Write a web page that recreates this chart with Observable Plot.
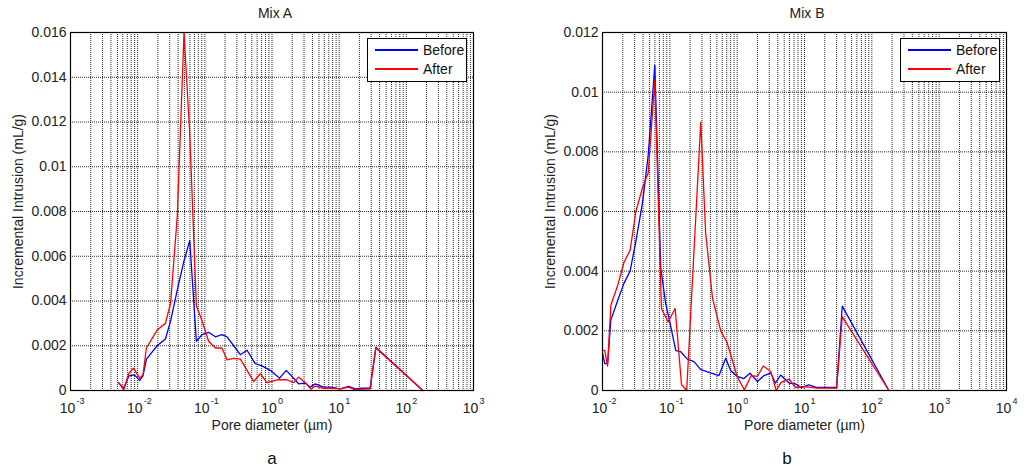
<!DOCTYPE html>
<html>
<head>
<meta charset="utf-8">
<script src="https://cdn.jsdelivr.net/npm/d3@7"></script>
<script src="https://cdn.jsdelivr.net/npm/@observablehq/plot@0.6"></script>
<style>
  body { margin: 0; background: #fff; font-family: "Liberation Sans", Arial, sans-serif; }
  #wrap { position: relative; width: 1024px; height: 475px; }
  .panel { position: absolute; top: 0; }
  .title { position: absolute; font-size: 14px; color: #222; transform: translateX(-50%); }
  .letter { position: absolute; font-size: 17px; color: #111; transform: translateX(-50%); }
  .legend { position: absolute; width: 98px; height: 42px; border: 1px solid #000; background: #fff; font-size: 14px; color: #111; }
  .legend .row { position: absolute; left: 7px; height: 16px; display: flex; align-items: center; }
  .legend .sw { display: inline-block; width: 43px; height: 1.5px; margin-right: 5px; }
</style>
</head>
<body>
<div id="wrap"></div>
<script>
// Mix A
const aBeforeX = [0.00524, 0.0062, 0.0074, 0.00895, 0.0107, 0.012, 0.0135, 0.0195, 0.0259, 0.0309, 0.0389, 0.049, 0.0596, 0.0748, 0.091, 0.114, 0.1436, 0.18, 0.214, 0.269, 0.338, 0.425, 0.563, 0.707, 0.94, 1.3, 1.63, 2.1, 2.49, 3.13, 3.7, 4.4, 5.86, 7.36, 10.4, 13.8, 17.4, 21.8, 28.9, 35.2, 176];
const aBeforeY = [0.00033, 0.0001, 0.00065, 0.0007, 0.00045, 0.00065, 0.0014, 0.002, 0.0023, 0.0031, 0.0045, 0.0058, 0.0067, 0.0022, 0.0025, 0.0026, 0.0024, 0.0025, 0.0024, 0.002, 0.0016, 0.0018, 0.0012, 0.0011, 0.0009, 0.00055, 0.0009, 0.00055, 0.0003, 0.00033, 0.00015, 0.0003, 0.00015, 0.00015, 0.00007, 0.00018, 0.00007, 0.0001, 0.0001, 0.00193, 0];
const aAfterX = [0.00524, 0.0062, 0.0074, 0.0087, 0.0107, 0.012, 0.0135, 0.0195, 0.0259, 0.0309, 0.0389, 0.049, 0.0596, 0.0748, 0.091, 0.114, 0.1436, 0.18, 0.214, 0.269, 0.338, 0.425, 0.535, 0.67, 0.84, 1.2, 1.66, 2.1, 2.49, 3.13, 3.8, 4.4, 5.86, 7.36, 10.4, 13.8, 17.4, 21.8, 28.9, 35.2, 176];
const aAfterY = [0.00035, 0.00003, 0.00077, 0.001, 0.00055, 0.0007, 0.0019, 0.0027, 0.003, 0.0039, 0.0078, 0.016, 0.0115, 0.0038, 0.0031, 0.0022, 0.0019, 0.0019, 0.00137, 0.00144, 0.0014, 0.0009, 0.0004, 0.00075, 0.00035, 0.00048, 0.00048, 0.00035, 0.0006, 0.00035, 0.00006, 0.0002, 0.0001, 0.0001, 0.00007, 0.00015, 0.00003, 0.00006, 0.00007, 0.0019, 0];

// Mix B
const bBeforeX = [0.01, 0.0108, 0.0119, 0.0133, 0.0167, 0.0209, 0.0257, 0.0313, 0.0393, 0.0478, 0.0598, 0.0733, 0.087, 0.0977, 0.1226, 0.145, 0.182, 0.229, 0.288, 0.537, 0.676, 0.8, 1.0, 1.26, 1.55, 2.0, 2.5, 3.16, 3.7, 4.43, 5.9, 7.4, 8.96, 11.6, 15.5, 21.8, 30, 36.4, 179];
const bBeforeY = [0.00125, 0.0009, 0.0009, 0.00236, 0.003, 0.0036, 0.004, 0.005, 0.0063, 0.0079, 0.0109, 0.0041, 0.0029, 0.0024, 0.00134, 0.0013, 0.00105, 0.00097, 0.0007, 0.0005, 0.00108, 0.00067, 0.00047, 0.0004, 0.00058, 0.0003, 0.0005, 0.00058, 0.00025, 0.00052, 0.00025, 0.00022, 0.0001, 0.00019, 0.0001, 0.0001, 0.0001, 0.00283, 0];
const bAfterX = [0.01, 0.0108, 0.0119, 0.0133, 0.0167, 0.0209, 0.0257, 0.0313, 0.0393, 0.0478, 0.0598, 0.075, 0.0944, 0.12, 0.149, 0.178, 0.288, 0.34, 0.43, 0.57, 0.71, 1.0, 1.28, 1.62, 2.0, 2.44, 3.16, 3.8, 4.5, 5.9, 7.4, 9.8, 15.5, 21.8, 30, 36.4, 179];
const bAfterY = [0.00136, 0.00134, 0.00082, 0.00286, 0.0035, 0.0043, 0.0047, 0.006, 0.0068, 0.0073, 0.0104, 0.00275, 0.0023, 0.00275, 0.0002, 0, 0.009, 0.0053, 0.0031, 0.002, 0.0016, 0.00047, 0.00002, 0.0005, 0.00047, 0.00082, 0.00064, 0, 0.00027, 0.00038, 0.0001, 0.00013, 0.00008, 0.00008, 0.00008, 0.00247, 0];

const seriesNames = ["Before", "After"];
const seriesColors = ["#0000ff", "#ff0000"];

function toRows(xs, ys) { return xs.map((x, i) => ({x, y: ys[i]})); }

function panel({before, after, xDomain, yMax, yStep, marginLeft, marginRight}) {
  const [e0, e1] = xDomain;
  const decades = d3.range(e0, e1 + 1);
  const minor = [];
  for (let e = e0; e < e1; e++) for (let m = 1; m <= 9; m++) minor.push(m * 10 ** e);
  minor.push(10 ** e1);
  const yTicks = d3.range(0, yMax + yStep / 2, yStep).map(v => +v.toFixed(3));
  const xMid = 10 ** ((e0 + e1) / 2);
  return Plot.plot({
    width: 512,
    height: 440,
    marginLeft, marginRight,
    marginTop: 32,
    marginBottom: 50,
    style: {fontFamily: "'Liberation Sans', Arial, sans-serif", fontSize: "14px", background: "transparent", color: "#222"},
    x: {type: "log", domain: [10 ** e0, 10 ** e1], axis: null},
    y: {domain: [0, yMax], axis: null},
    marks: [
      Plot.frame({fill: "white"}),
      Plot.ruleX(minor, {stroke: "#111", strokeOpacity: 0.9, strokeDasharray: "1,1", strokeWidth: 1}),
      Plot.ruleY(yTicks, {stroke: "#111", strokeOpacity: 0.9, strokeDasharray: "1,1", strokeWidth: 1}),
      Plot.line(before, {x: "x", y: "y", stroke: seriesColors[0], strokeWidth: 1.3}),
      Plot.line(after, {x: "x", y: "y", stroke: seriesColors[1], strokeWidth: 1.3}),
      Plot.frame({stroke: "#000", strokeWidth: 1.2}),
      Plot.text(yTicks, {x: 10 ** e0, y: d => d, text: d => String(d), textAnchor: "end", dx: -4, fontSize: 14}),
      Plot.text(decades, {x: d => 10 ** d, y: 0, text: () => "10", dy: 18, dx: -3, fontSize: 14}),
      Plot.text(decades, {x: d => 10 ** d, y: 0, text: d => String(d), textAnchor: "start", dx: 6, dy: 11, fontSize: 9}),
      Plot.text(["Pore diameter (µm)"], {x: xMid, y: 0, dy: 35, fontSize: 14}),
      Plot.text(["Incremental Intrusion (mL/g)"], {frameAnchor: "left", textAnchor: "middle", dx: -52, dy: -10, rotate: -90, fontSize: 14})
    ]
  });
}

const wrap = document.getElementById("wrap");

const left = panel({
  before: toRows(aBeforeX, aBeforeY), after: toRows(aAfterX, aAfterY),
  xDomain: [-3, 3], yMax: 0.016, yStep: 0.002, marginLeft: 70, marginRight: 39
});
left.classList.add("panel");
left.style.left = "0px";
wrap.appendChild(left);

const right = panel({
  before: toRows(bBeforeX, bBeforeY), after: toRows(bAfterX, bAfterY),
  xDomain: [-2, 4], yMax: 0.012, yStep: 0.002, marginLeft: 90, marginRight: 18
});
right.classList.add("panel");
right.style.left = "512px";
wrap.appendChild(right);

function addText(cls, text, x, y) {
  const d = document.createElement("div");
  d.className = cls; d.textContent = text;
  d.style.left = x + "px"; d.style.top = y + "px";
  wrap.appendChild(d);
}
addText("title", "Mix A", 275, 5);
addText("title", "Mix B", 807, 5);
addText("letter", "a", 272, 449);
addText("letter", "b", 787, 449);

function addLegend(x, y) {
  const box = document.createElement("div");
  box.className = "legend";
  box.style.left = x + "px"; box.style.top = y + "px";
  seriesNames.forEach((name, i) => {
    const row = document.createElement("div");
    row.className = "row";
    row.style.top = (3 + i * 19) + "px";
    const sw = document.createElement("span");
    sw.className = "sw"; sw.style.background = seriesColors[i];
    const t = document.createElement("span");
    t.textContent = name;
    row.appendChild(sw); row.appendChild(t);
    box.appendChild(row);
  });
  wrap.appendChild(box);
}
addLegend(367, 38);
addLegend(900, 38);
</script>
</body>
</html>
